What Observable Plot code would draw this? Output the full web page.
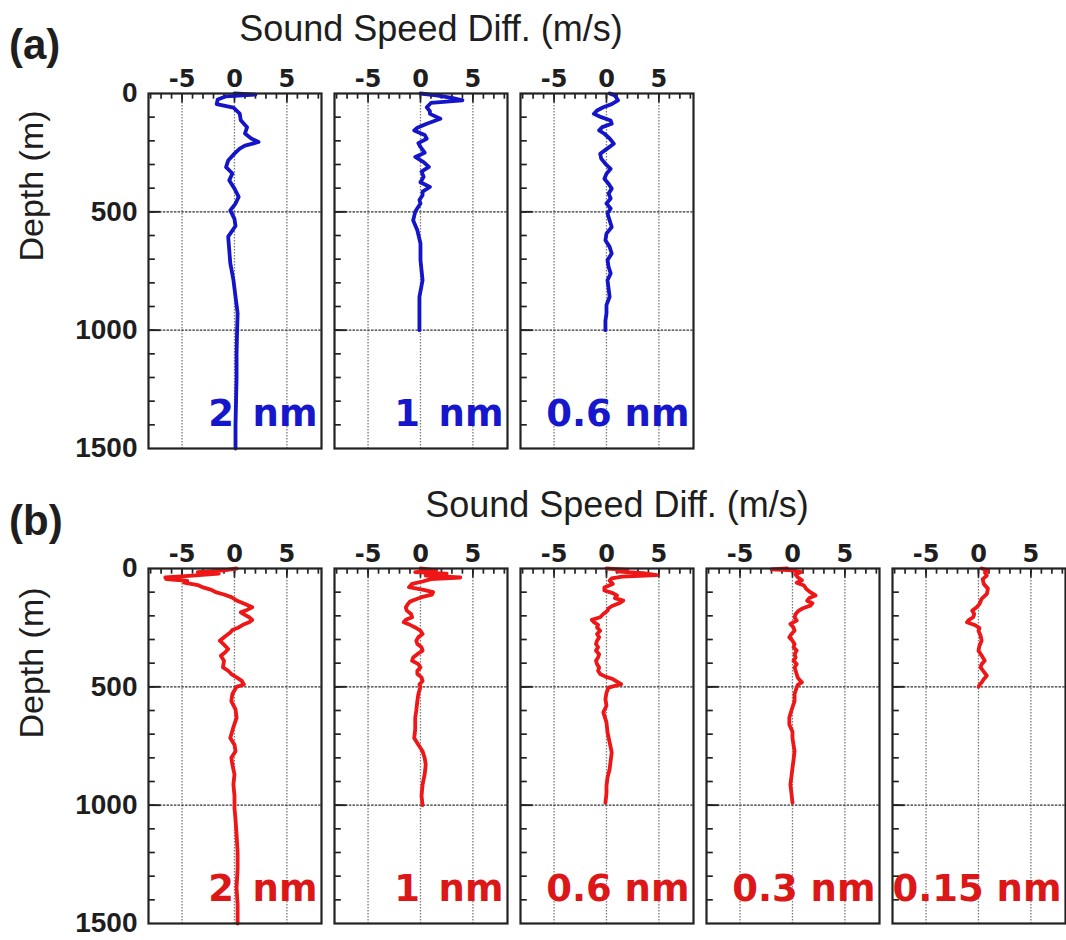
<!DOCTYPE html>
<html>
<head>
<meta charset="utf-8">
<script src="https://cdn.jsdelivr.net/npm/d3@7"></script>
<script src="https://cdn.jsdelivr.net/npm/@observablehq/plot@0.6"></script>
<style>
  body { margin: 0; background: #fff; }
  #fig { position: relative; width: 1066px; height: 940px; overflow: hidden; background: #fff; }
  .lbl { position: absolute; white-space: nowrap; line-height: 1; color: #1e1e1e; font-family: "Liberation Sans", Arial, sans-serif; }
  .panel { position: absolute; }
</style>
</head>
<body>
<div id="fig"></div>
<script>
// ---------------- data ----------------
const xDomain = [-8.2, 8.3];
const depthDomain = [0, 1500];
const xTickLabels = [-5, 0, 5];
const depthTickLabels = [0, 500, 1000, 1500];
const xMinorTicks = [-8, -7, -6, -5, -4, -3, -2, -1, 0, 1, 2, 3, 4, 5, 6, 7, 8];
const depthMinorTicks = [100, 200, 300, 400, 500, 600, 700, 800, 900, 1000, 1100, 1200, 1300, 1400];
const xGridLines = [-5, 0, 5];
const depthGridLines = [500, 1000];

const labelsA = ["2\u2002nm", "1\u2002nm", "0.6 nm"];
const labelsB = ["2\u2002nm", "1\u2002nm", "0.6 nm", "0.3 nm", "0.15 nm"];

// (a) blue profiles
const a2nmDepth = [0, 5, 12, 25, 45, 60, 85, 113, 143, 169, 190, 205, 220, 233, 254, 283, 311, 338, 367, 402, 437, 465, 494, 530, 560, 605, 661, 717, 788, 859, 929, 1000, 1100, 1200, 1300, 1400, 1500];
const a2nmSpeed = [0.0, 2.0, -0.8, -1.6, -1.7, -0.1, 0.5, 0.6, 1.2, 1.0, 1.6, 2.3, 1.0, 0.5, 0.0, -0.6, -0.8, -0.2, -0.5, 0.0, 0.4, 0.1, -0.4, 0.0, 0.1, -0.6, -0.5, -0.4, -0.1, 0.1, 0.3, 0.25, 0.2, 0.2, 0.15, 0.1, 0.1];

const a1nmDepth = [0, 8, 18, 29, 40, 58, 75, 86, 107, 128, 145, 156, 175, 191, 210, 226, 250, 268, 290, 310, 330, 352, 375, 395, 415, 430, 450, 465, 485, 500, 536, 578, 634, 704, 789, 859, 929, 1000];
const a1nmSpeed = [0.0, 1.5, 3.0, 4.0, 1.0, 0.6, 0.9, 0.9, 1.9, 0.6, -0.3, -0.6, 0.4, 0.6, -0.2, 0.0, 0.4, -0.5, 0.3, 0.8, 0.1, 0.3, 0.0, 0.9, 0.2, 0.2, -0.1, 0.0, -0.3, -0.5, -0.7, -0.3, 0.0, 0.0, 0.2, -0.1, -0.1, -0.1];

const a06nmDepth = [0, 8, 29, 45, 58, 72, 86, 100, 114, 128, 142, 156, 170, 190, 212, 235, 255, 275, 297, 318, 339, 360, 381, 402, 423, 444, 465, 486, 507, 536, 564, 592, 620, 648, 676, 704, 732, 760, 789, 824, 859, 894, 929, 960, 1000];
const a06nmSpeed = [0.3, 0.8, 1.1, 0.5, -0.3, -0.9, -1.2, -0.5, 0.4, 0.5, -0.4, -0.7, -0.2, 0.3, 0.7, 0.0, -0.6, -0.5, -0.1, 0.4, 0.0, -0.2, 0.2, 0.5, 0.2, 0.4, 0.0, 0.4, 0.1, 0.3, 0.5, 0.0, -0.1, 0.3, 0.5, 0.1, 0.2, 0.4, 0.1, 0.2, 0.3, 0.0, 0.0, -0.1, -0.1];

// (b) red profiles
const b2nmDepth = [0, 8, 15, 22, 30, 38, 45, 52, 60, 70, 80, 90, 100, 110, 121, 135, 150, 164, 175, 185, 196, 206, 217, 227, 238, 249, 260, 270, 287, 305, 322, 340, 355, 369, 390, 418, 432, 446, 460, 475, 490, 500, 530, 560, 595, 631, 670, 716, 745, 772, 800, 829, 870, 913, 960, 1012, 1060, 1125, 1200, 1267, 1350, 1420, 1500];
const b2nmSpeed = [0.2, -1.0, -3.5, -1.5, -4.0, -6.6, -6.5, -4.5, -4.8, -3.5, -3.0, -2.2, -1.8, -1.0, -0.3, 0.2, 1.0, 1.7, 1.2, 0.6, 1.0, 1.4, 1.7, 1.4, 0.8, 0.4, -0.2, -0.4, -0.9, -1.4, -1.0, -0.6, -0.9, -1.3, -1.0, -1.1, -0.6, -0.3, 0.2, 0.7, 0.9, 0.2, -0.2, -0.3, 0.1, 0.2, -0.1, -0.4, 0.0, 0.1, -0.3, -0.2, 0.0, -0.1, 0.0, 0.0, 0.1, 0.2, 0.3, 0.3, 0.2, 0.3, 0.3];

const b1nmDepth = [0, 8, 15, 22, 30, 38, 45, 55, 65, 79, 90, 100, 110, 120, 128, 140, 150, 165, 178, 192, 206, 217, 227, 238, 249, 263, 277, 290, 305, 319, 333, 347, 362, 376, 390, 404, 418, 432, 446, 460, 475, 490, 500, 530, 560, 600, 631, 680, 716, 745, 772, 800, 829, 870, 913, 960, 1000];
const b1nmSpeed = [0.0, 1.5, -0.5, 2.5, 0.5, 3.8, 1.0, 0.2, -0.8, -1.1, 0.3, 1.2, 1.1, 0.2, -0.3, -1.0, -1.2, -1.4, -1.3, -0.9, -0.8, -1.4, -1.6, -1.0, -0.5, 0.0, 0.2, -0.2, -0.4, -0.3, 0.1, 0.2, -0.3, -0.7, -0.8, -0.2, 0.0, -0.3, -0.3, 0.1, 0.2, -0.1, 0.0, -0.2, -0.3, -0.4, -0.5, -0.5, -0.6, -0.2, 0.2, 0.4, 0.5, 0.4, 0.2, 0.1, 0.2];

const b06nmDepth = [0, 6, 12, 20, 28, 34, 42, 51, 65, 80, 93, 104, 114, 125, 136, 147, 157, 168, 178, 192, 206, 217, 227, 238, 249, 263, 277, 291, 305, 319, 333, 347, 362, 376, 390, 404, 418, 432, 446, 457, 467, 478, 489, 496, 503, 525, 552, 580, 608, 650, 693, 735, 777, 812, 848, 883, 918, 950, 990];
const b06nmSpeed = [0.0, 2.0, 1.0, 3.5, 4.8, 1.5, 0.5, 0.3, 0.6, -0.2, -0.2, 0.6, 1.0, 0.8, 1.6, 1.2, 0.6, 0.2, 0.1, -0.3, -0.6, -1.4, -1.2, -0.8, -0.9, -0.6, -0.9, -0.7, -0.9, -1.0, -0.8, -1.0, -0.7, -0.8, -1.0, -0.9, -0.7, -0.8, -0.6, -0.1, 0.6, 1.0, 1.4, 0.8, 0.2, 0.0, -0.1, 0.0, -0.3, 0.0, 0.1, 0.3, 0.5, 0.4, 0.3, 0.1, 0.0, 0.0, -0.1];

const b03nmDepth = [0, 4, 8, 15, 25, 37, 50, 60, 72, 86, 100, 114, 125, 136, 147, 157, 168, 178, 192, 206, 220, 234, 249, 263, 277, 291, 305, 319, 333, 347, 362, 376, 390, 404, 418, 432, 446, 461, 472, 481, 492, 503, 530, 560, 600, 630, 659, 690, 716, 745, 772, 810, 843, 880, 913, 950, 990];
const b03nmSpeed = [-0.5, -2.0, 0.0, 0.8, 0.3, 0.5, 0.9, 0.4, 1.1, 1.3, 1.7, 2.2, 1.6, 1.4, 1.9, 1.7, 1.0, 0.6, 0.3, 0.2, 0.4, -0.2, 0.1, 0.2, -0.1, -0.3, 0.0, 0.2, 0.1, 0.4, 0.2, 0.3, 0.1, 0.4, 0.2, 0.3, 0.4, 0.5, 0.7, 0.9, 0.5, 0.4, 0.2, 0.2, -0.1, -0.3, -0.3, 0.0, 0.0, 0.1, 0.2, 0.1, 0.0, -0.1, -0.2, -0.1, 0.0];

const b015nmDepth = [0, 8, 16, 30, 45, 65, 85, 107, 128, 150, 165, 178, 192, 206, 217, 227, 240, 252, 263, 284, 305, 326, 347, 368, 390, 404, 418, 436, 453, 468, 482, 492, 500];
const b015nmSpeed = [0.3, 0.9, 0.6, 0.8, 0.4, 0.5, 0.9, 0.8, 0.3, 0.1, -0.2, -0.6, -0.4, -0.5, -0.9, -1.1, -0.3, 0.1, 0.0, 0.2, 0.3, 0.1, 0.0, 0.3, 0.6, 0.3, 0.2, 0.5, 0.8, 0.5, 0.3, 0.1, 0.0];

// ---------------- layout ----------------
const BLUE = "#1414c8", BLUE_TXT = "#1616cc";
const RED = "#ee1616", RED_TXT = "#dc1717";
const FRAME_W = 173, FRAME_H = 355;
const panelLefts = [148, 334, 520, 706, 892];

const rows = [
  {top: 93, line: BLUE, text: BLUE_TXT, labels: labelsA,
   profiles: [[a2nmDepth, a2nmSpeed], [a1nmDepth, a1nmSpeed], [a06nmDepth, a06nmSpeed]]},
  {top: 568, line: RED, text: RED_TXT, labels: labelsB,
   profiles: [[b2nmDepth, b2nmSpeed], [b1nmDepth, b1nmSpeed], [b06nmDepth, b06nmSpeed], [b03nmDepth, b03nmSpeed], [b015nmDepth, b015nmSpeed]]}
];

const fig = document.getElementById("fig");

function makePanel(depth, speed, label, lineColor, textColor, showY) {
  const mL = showY ? 90 : 4, mT = 40, mR = 4, mB = 18;
  const data = depth.map((d, i) => ({depth: d, speed: speed[i]}));
  const marks = [
    Plot.ruleX(xGridLines, {stroke: "#7a7a7a", strokeDasharray: "1.5,1.5", strokeWidth: 1.3}),
    Plot.ruleY(depthGridLines, {stroke: "#333", strokeDasharray: "2.5,1.2", strokeWidth: 1.4}),
    Plot.ruleX(xMinorTicks, {y1: 0, y2: 24, stroke: "#222", strokeWidth: 1.7}),
    Plot.ruleX(xGridLines, {y1: 0, y2: 40, stroke: "#222", strokeWidth: 1.7}),
    Plot.ruleY(depthMinorTicks, {x1: xDomain[0], x2: xDomain[0] + 0.65, stroke: "#222", strokeWidth: 1.7}),
    Plot.ruleY(depthGridLines, {x1: xDomain[0], x2: xDomain[0] + 1.2, stroke: "#222", strokeWidth: 1.9}),
    Plot.line(data, {x: "speed", y: "depth", stroke: lineColor, strokeWidth: 3.8, strokeLinejoin: "round"}),
    Plot.text([label], {text: d => d, frameAnchor: "bottom-right", textAnchor: "end", lineAnchor: "bottom",
      dx: -4, dy: -23, fill: textColor, fontSize: 37, fontWeight: "bold", fontFamily: "'DejaVu Sans', sans-serif"}),
    Plot.frame({stroke: "#222", strokeWidth: 2.2}),
    // top tick labels (-5, 0, 5) placed through the x scale
    Plot.text(xTickLabels, {x: d => d, frameAnchor: "top", text: d => String(d), lineAnchor: "bottom",
      dy: -7, fontSize: 24, fontWeight: "bold", fontFamily: "'DejaVu Sans', sans-serif", fill: "#1e1e1e"})
  ];
  if (showY) {
    marks.push(Plot.axisY({anchor: "left", ticks: depthTickLabels, tickSize: 0, tickPadding: 11, fontSize: 28,
      fontWeight: "bold", tickFormat: d => String(d), label: null}));
  }
  const svg = Plot.plot({
    width: FRAME_W + mL + mR,
    height: FRAME_H + mT + mB,
    marginLeft: mL, marginTop: mT, marginRight: mR, marginBottom: mB,
    x: {domain: xDomain, axis: null},
    y: {domain: depthDomain, reverse: true, axis: showY ? undefined : null},
    style: {background: "transparent", color: "#1e1e1e", fontFamily: "'Liberation Sans', Arial, sans-serif"},
    marks
  });
  return {svg, mL, mT};
}

rows.forEach(row => {
  row.profiles.forEach(([dep, spd], i) => {
    const {svg, mL, mT} = makePanel(dep, spd, row.labels[i], row.line, row.text, i === 0);
    svg.classList.add("panel");
    svg.style.left = (panelLefts[i] - mL) + "px";
    svg.style.top = (row.top - mT) + "px";
    svg.style.position = "absolute";
    fig.appendChild(svg);
  });
});

// ---------------- text ----------------
function addText(txt, opts) {
  const d = document.createElement("div");
  d.className = "lbl";
  d.textContent = txt;
  const F = opts.size;
  d.style.fontSize = F + "px";
  if (opts.bold) d.style.fontWeight = "bold";
  if (opts.rotate) {
    d.style.left = opts.cx + "px";
    d.style.top = opts.cy + "px";
    d.style.transform = "translate(-50%,-50%) rotate(-90deg)";
  } else {
    d.style.top = (opts.baseline - 0.8465 * F) + "px";
    if (opts.center != null) {
      d.style.left = opts.center + "px";
      d.style.transform = "translateX(-50%)";
    } else {
      d.style.left = opts.left + "px";
    }
  }
  fig.appendChild(d);
}

addText("(a)", {size: 42, bold: true, left: 9, baseline: 60});
addText("(b)", {size: 42, bold: true, left: 9, baseline: 536});
addText("Sound Speed Diff. (m/s)", {size: 36, center: 431, baseline: 41});
addText("Sound Speed Diff. (m/s)", {size: 36, center: 617, baseline: 517});
addText("Depth (m)", {size: 34, rotate: true, cx: 31, cy: 186});
addText("Depth (m)", {size: 34, rotate: true, cx: 31, cy: 663});
</script>
</body>
</html>
